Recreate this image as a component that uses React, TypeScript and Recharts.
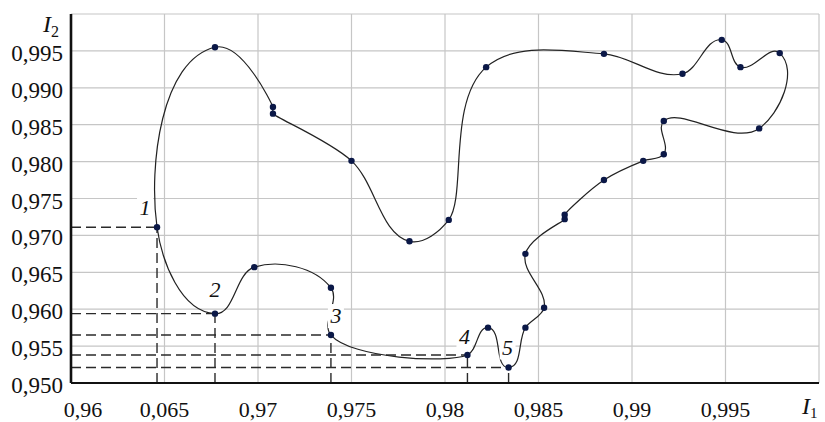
import {
  ScatterChart,
  Scatter,
  XAxis,
  YAxis,
  CartesianGrid,
  ReferenceLine,
  ReferenceDot,
} from "recharts";

// points of the closed curve, in drawing order (starts at point 1)
const curveX = [
  0.9646, 0.9677, 0.9698, 0.9739, 0.9739, 0.9812, 0.9823, 0.9834, 0.9843, 0.9853,
  0.9843, 0.9864, 0.9864, 0.9885, 0.9906, 0.9917, 0.9917, 0.9968, 0.9979, 0.9958,
  0.9948, 0.9927, 0.9885, 0.9822, 0.9802, 0.9781, 0.975, 0.9708, 0.9708, 0.9677,
];
const curveY = [
  0.9711, 0.9594, 0.9657, 0.9629, 0.9565, 0.9538, 0.9575, 0.9521, 0.9575, 0.9602,
  0.9675, 0.9722, 0.9728, 0.9775, 0.9801, 0.981, 0.9855, 0.9845, 0.9947, 0.9928,
  0.9965, 0.9919, 0.9946, 0.9928, 0.9721, 0.9692, 0.9801, 0.9865, 0.9874, 0.9955,
];

// numbered points (index into the curve) with dashed projections
const markedIdx = [0, 1, 4, 5, 7];
const markedLabels = ["1", "2", "3", "4", "5"];

const xTicks = [0.96, 0.965, 0.97, 0.975, 0.98, 0.985, 0.99, 0.995, 1.0];
const xTickLabels = ["0,96", "0,065", "0,97", "0,975", "0,98", "0,985", "0,99", "0,995", ""];
const yTicks = [0.95, 0.955, 0.96, 0.965, 0.97, 0.975, 0.98, 0.985, 0.99, 0.995, 1.0];
const yTickLabels = ["0,950", "0,955", "0,960", "0,965", "0,970", "0,975", "0,980", "0,985", "0,990", "0,995", ""];

const data = curveX.map((x, i) => ({ x, y: curveY[i] }));

const FONT = "'Liberation Serif', 'Times New Roman', serif";
const serif = { fontFamily: FONT };
const labelNudge = [
  [-12, -19],
  [0, -24],
  [5, -19],
  [-3, -18],
  [-1, -20],
];

// closed smooth loop through every point; tangent = bisector of the two chords,
// handle length limited by the neighbouring chord so short/long joins stay tight
const K = 0.33;
const dist = (a: number[], b: number[]) => Math.hypot(b[0] - a[0], b[1] - a[1]) || 1;
const smoothLoop = (context: any) => {
  let pts: number[][] = [];
  return {
    areaStart() {},
    areaEnd() {},
    lineStart() {
      pts = [];
    },
    point(x: number, y: number) {
      pts.push([+x, +y]);
    },
    lineEnd() {
      const n = pts.length;
      if (n < 3) return;
      const len = pts.map((p, i) => dist(p, pts[(i + 1) % n])); // chord i -> i+1
      const tan = pts.map((p, i) => {
        const a = pts[(i - 1 + n) % n];
        const b = pts[(i + 1) % n];
        const l1 = len[(i - 1 + n) % n];
        const l2 = len[i];
        const sx = (p[0] - a[0]) / l1 + (b[0] - p[0]) / l2;
        const sy = (p[1] - a[1]) / l1 + (b[1] - p[1]) / l2;
        const s = Math.hypot(sx, sy) || 1;
        return [sx / s, sy / s];
      });
      context.moveTo(pts[0][0], pts[0][1]);
      for (let i = 0; i < n; i++) {
        const j = (i + 1) % n;
        const p = pts[i];
        const q = pts[j];
        const h = len[i];
        const h1 = K * Math.min(h, 2 * len[(i - 1 + n) % n]);
        const h2 = K * Math.min(h, 2 * len[j]);
        context.bezierCurveTo(
          p[0] + tan[i][0] * h1,
          p[1] + tan[i][1] * h1,
          q[0] - tan[j][0] * h2,
          q[1] - tan[j][1] * h2,
          q[0],
          q[1]
        );
      }
      context.closePath();
    },
  };
};

const XTick = ({ x, y, index }: any) => (
  <text
    x={x + (index === 0 ? 12 : 0)}
    y={y + 26}
    textAnchor="middle"
    style={{ ...serif, fontSize: 22 }}
    fill="#111"
  >
    {xTickLabels[index]}
  </text>
);

const YTick = ({ x, y, index }: any) => (
  <text x={x} y={y + 10} textAnchor="end" style={{ ...serif, fontSize: 23 }} fill="#111">
    {yTickLabels[index]}
  </text>
);

const I2Label = ({ viewBox }: any) => (
  <text x={viewBox.x + 43} y={viewBox.y + 18} style={serif} fill="#111">
    <tspan style={{ fontSize: 24, fontStyle: "italic" }}>I</tspan>
    <tspan style={{ fontSize: 16 }} dy={5}>2</tspan>
  </text>
);

const I1Label = ({ viewBox }: any) => (
  <text x={viewBox.x + viewBox.width - 17} y={viewBox.y + 31} style={serif} fill="#111">
    <tspan style={{ fontSize: 24, fontStyle: "italic" }}>I</tspan>
    <tspan style={{ fontSize: 15 }} dy={4}>1</tspan>
  </text>
);

const markLabel = (k: number) => ({ viewBox }: any) => {
  const cx = viewBox.x + viewBox.width / 2 + labelNudge[k][0];
  const cy = viewBox.y + viewBox.height / 2 + labelNudge[k][1];
  return (
    <g>
      <rect x={cx - 8} y={cy - 12} width={16} height={24} fill="#fff" />
      <text
        x={cx}
        y={cy + 7}
        textAnchor="middle"
        style={{ ...serif, fontSize: 22, fontStyle: "italic" }}
        fill="#111"
      >
        {markedLabels[k]}
      </text>
    </g>
  );
};

const App = () => {
  return (
    <div style={{ position: "absolute", left: 0, top: 0, background: "#fff", ...serif }}>
      <ScatterChart width={825} height={422} margin={{ top: 14, right: 6, bottom: 0, left: 0 }}>
        <CartesianGrid stroke="#c6c6c6" strokeWidth={1.2} />
        <XAxis
          type="number"
          dataKey="x"
          domain={[0.96, 1.0]}
          ticks={xTicks}
          interval={0}
          allowDataOverflow
          height={39}
          tickLine={false}
          axisLine={{ stroke: "#111", strokeWidth: 2.2 }}
          tick={<XTick />}
          label={I1Label}
        />
        <YAxis
          type="number"
          dataKey="y"
          domain={[0.95, 1.0]}
          ticks={yTicks}
          interval={0}
          allowDataOverflow
          width={71}
          tickLine={false}
          axisLine={{ stroke: "#111", strokeWidth: 2.6 }}
          tick={<YTick />}
          label={I2Label}
        />
        {markedIdx.map((idx) => (
          <ReferenceLine
            key={"h" + idx}
            segment={[
              { x: 0.96, y: curveY[idx] },
              { x: curveX[idx], y: curveY[idx] },
            ]}
            stroke="#2a2a2a"
            strokeWidth={1.4}
            strokeDasharray="10 5"
          />
        ))}
        {markedIdx.map((idx) => (
          <ReferenceLine
            key={"v" + idx}
            segment={[
              { x: curveX[idx], y: 0.95 },
              { x: curveX[idx], y: curveY[idx] },
            ]}
            stroke="#2a2a2a"
            strokeWidth={1.4}
            strokeDasharray="10 5"
          />
        ))}
        <Scatter
          data={data}
          fill="#0b1847"
          line={{ stroke: "#222", strokeWidth: 1.2 }}
          lineType="joint"
          lineJointType={smoothLoop as any}
          shape={(p: any) => <circle cx={p.cx} cy={p.cy} r={3.2} fill="#0b1847" />}
          isAnimationActive={false}
        />
        {markedIdx.map((idx, k) => (
          <ReferenceDot
            key={"d" + idx}
            x={curveX[idx]}
            y={curveY[idx]}
            r={0}
            fill="none"
            stroke="none"
            label={markLabel(k)}
          />
        ))}
      </ScatterChart>
    </div>
  );
};

export default App;
